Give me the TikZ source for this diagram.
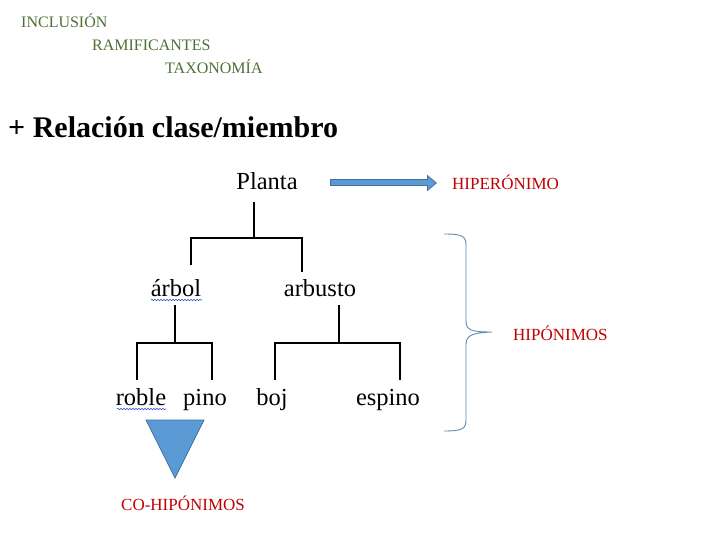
\documentclass[tikz,border=0pt]{standalone}
\usepackage{fontspec}
\setmainfont{Liberation Serif}
\usetikzlibrary{arrows.meta,decorations.pathmorphing}
\definecolor{tgreen}{HTML}{4F6F35}
\definecolor{tred}{HTML}{C00000}
\definecolor{tblue}{HTML}{5B9BD5}
\definecolor{tblueD}{HTML}{41719C}
\definecolor{brace}{HTML}{5B8AB5}
\definecolor{spell}{HTML}{3050C8}
\tikzset{
  head/.style={font=\fontsize{16}{18}\selectfont,text=tgreen,anchor=west,inner sep=0pt},
  lab/.style={font=\fontsize{17}{19}\selectfont,text=tred,anchor=west,inner sep=0pt},
  word/.style={font=\fontsize{24.5}{26}\selectfont,inner sep=0pt,anchor=base},
  tree/.style={line width=1.3pt,black},
  wavy/.style={spell,decorate,decoration={snake,amplitude=0.7pt,segment length=3pt},line width=0.6pt}
}
\begin{document}
\begin{tikzpicture}[x=1pt,y=-1pt]
\useasboundingbox (0,0) rectangle (720,540);
% headings
\node[head] (inc) at (21,21) {INCLUSIÓN};
\node[head] (ram) at (92,45) {RAMIFICANTES};
\node[head] (tax) at (165,67) {TAXONOMÍA};
\node[font=\fontsize{30}{34}\selectfont\bfseries,anchor=west,inner sep=0pt] (rel) at (8,127) {+ Relación clase/miembro};
% tree words
\node[word] (planta) at (267,190) {Planta};
\node[word] (arbol) at (176,296) {árbol};
\node[word] (arbusto) at (320,296) {arbusto};
\node[word] (roble) at (141,405) {roble};
\node[word] (pino) at (205,405) {pino};
\node[word] (boj) at (272,405) {boj};
\node[word] (espino) at (388,405) {espino};
% spell-check underlines
\draw[wavy] (151,300) -- (202,300);
\draw[wavy] (117,409) -- (166,409);
% tree lines
\coordinate (j0) at (254,238);
\coordinate (j1) at (175,343);
\coordinate (j2) at (339,343);
\draw[tree] (254,202) -- (j0);
\draw[tree] (191,265) -- (191,238) -- (302,238) -- (302,272);
\draw[tree] (175,305) -- (j1);
\draw[tree] (137,380) -- (137,343) -- (212,343) -- (212,380);
\draw[tree] (339,305) -- (j2);
\draw[tree] (275,380) -- (275,343) -- (400,343) -- (400,380);
% block arrow
\node[lab] (hiper) at (452,182) {HIPERÓNIMO};
\coordinate (as) at (330,183);
\coordinate (ae) at (437,183);
\draw[tblueD,line width=7pt,-{Triangle[length=10pt,width=16pt]}] (as) -- (ae);
\draw[tblue,line width=5pt,-{Triangle[length=7.5pt,width=12.5pt]}] ([xshift=1pt]as) -- ([xshift=-1.5pt]ae);
% brace
\node[lab] (hipo) at (513,333) {HIPÓNIMOS};
\coordinate (bt) at (444,234);
\coordinate (bb) at (444,431);
\coordinate (bm) at (492,332);
\draw[brace,line width=0.9pt] (bt) .. controls (462,234) and (466,236) .. (466,245)
  -- (466,320) .. controls (466,330) and (470,332) .. (bm)
  (bm) .. controls (470,333) and (466,336) .. (466,345)
  -- (466,420) .. controls (466,429) and (462,431) .. (bb);
% triangle
\coordinate (t1) at (146,420);
\coordinate (t2) at (204,420);
\coordinate (t3) at (175,478);
\draw[tblueD,fill=tblue,line width=0.8pt] (t1) -- (t2) -- (t3) -- cycle;
\node[lab] (cohipo) at (121,503) {CO-HIPÓNIMOS};
\end{tikzpicture}
\end{document}
